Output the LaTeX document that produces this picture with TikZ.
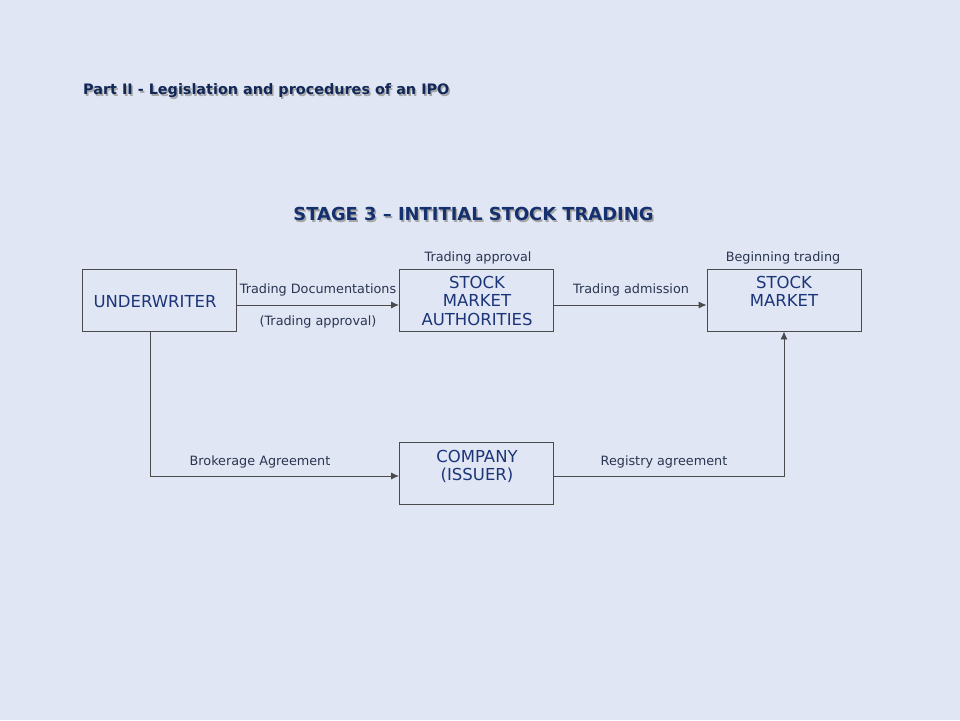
\documentclass[tikz,border=0pt]{standalone}
\usepackage{fontspec}
\setmainfont{DejaVu Sans}
\usetikzlibrary{arrows.meta}
\definecolor{bg}{HTML}{E0E6F4}
\definecolor{navy}{HTML}{15306E}
\definecolor{boxtxt}{HTML}{1C3578}
\definecolor{lbl}{HTML}{2A3550}
\definecolor{ln}{HTML}{4A4A4A}
\tikzset{
  x=1pt,y=-1pt,
  box/.style={draw=ln,line width=0.9pt,minimum width=154pt,minimum height=62pt,inner sep=0pt},
  boxtext/.style={text=boxtxt,font=\fontsize{16.5}{18.5}\selectfont,align=center,anchor=north},
  lab/.style={text=lbl,font=\fontsize{12.8}{14}\selectfont,inner sep=0pt},
  conn/.style={draw=ln,line width=0.9pt},
  arr/.style={conn,-{Latex[length=8pt,width=7pt]}},
  ttl/.style={font=\bfseries,inner sep=0pt},
}
\begin{document}
\begin{tikzpicture}
\fill[bg] (0,0) rectangle (960,720);
\useasboundingbox (0,0) rectangle (960,720);
% titles
\node[ttl,anchor=west,text=gray!70,font=\bfseries\fontsize{14.4}{16}\selectfont] at (84.5,92.5) {Part II - Legislation and procedures of an IPO};
\node[ttl,anchor=west,text=navy!80!black,font=\bfseries\fontsize{14.4}{16}\selectfont] (part) at (83,91) {Part II - Legislation and procedures of an IPO};
\node[ttl,text=gray!70,font=\bfseries\fontsize{17.9}{19}\selectfont] at (475,215.5) {STAGE 3 – INTITIAL STOCK TRADING};
\node[ttl,text=navy,font=\bfseries\fontsize{17.9}{19}\selectfont] (stage) at (473.5,214) {STAGE 3 – INTITIAL STOCK TRADING};
% boxes
\node[box] (uw) at (159,300) {};
\node[box] (sma) at (476.5,300) {};
\node[box] (co) at (476.5,473.5) {};
\node[box] (sm) at (784,300) {};
\node[boxtext,anchor=center] (uwt) at (155,302) {UNDERWRITER};
\node[boxtext,inner sep=0pt] (smat) at (477,276) {STOCK\\MARKET\\AUTHORITIES};
\node[boxtext,inner sep=0pt] (smt) at (784,276) {STOCK\\MARKET};
\node[boxtext,inner sep=0pt] (cot) at (477,450) {COMPANY\\(ISSUER)};
% labels
\node[lab] (l1) at (318,290) {Trading Documentations};
\node[lab] (l2) at (318,322) {(Trading approval)};
\node[lab] (l3) at (478,258) {Trading approval};
\node[lab] (l4) at (631,290) {Trading admission};
\node[lab] (l5) at (783,258) {Beginning trading};
\node[lab] (l6) at (260,462) {Brokerage Agreement};
\node[lab] (l7) at (664,462) {Registry agreement};
% connectors
\draw[arr] (uw.east |- 0,305) -- (sma.west |- 0,305);
\draw[arr] (sma.east |- 0,305) -- (sm.west |- 0,305);
\draw[arr] (uw.south -| 150,0) |- (co.west |- 0,476);
\draw[arr] (co.east |- 0,476) -| (sm.south);
\end{tikzpicture}
\end{document}
